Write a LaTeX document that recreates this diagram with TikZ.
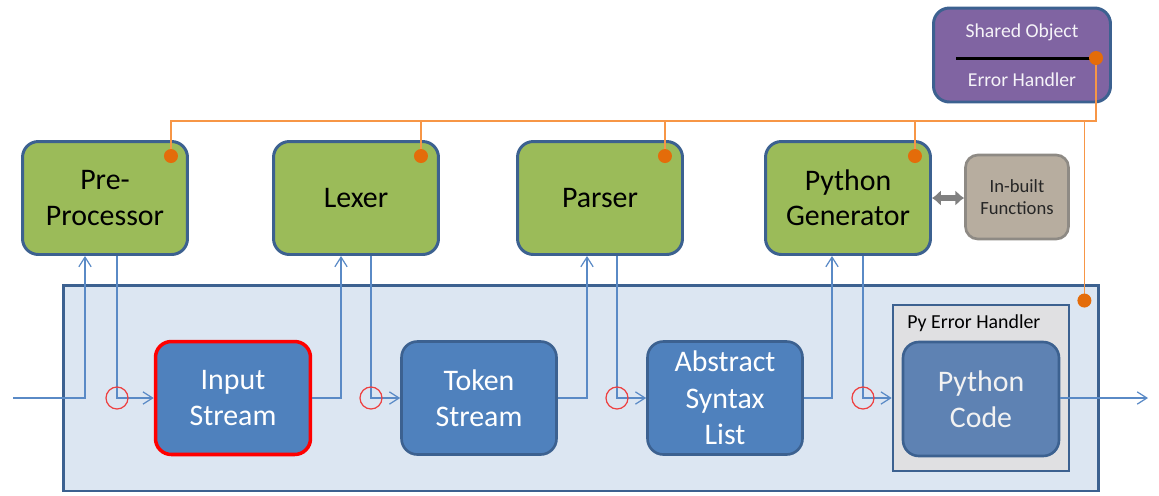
\documentclass[tikz,border=0pt]{standalone}
\usepackage{fontspec}
\setmainfont{Carlito}
\usepackage{tikz}
\usetikzlibrary{arrows.meta,positioning,calc}

\definecolor{stagegreen}{HTML}{9BBB59}
\definecolor{boxblue}{HTML}{4F81BD}
\definecolor{edgeblue}{HTML}{3C6190}
\definecolor{panelblue}{HTML}{DCE6F2}
\definecolor{flowblue}{HTML}{5A8AC6}
\definecolor{busorange}{HTML}{F79646}
\definecolor{dotorange}{HTML}{E46C0A}
\definecolor{sharedpurple}{HTML}{8064A2}
\definecolor{libtan}{HTML}{B7AD9F}
\definecolor{libedge}{HTML}{8E8A84}
\definecolor{codeblue}{HTML}{5E82B3}
\definecolor{handlergray}{HTML}{E0E0E2}
\definecolor{ringred}{HTML}{EE4040}

\begin{document}
\begin{tikzpicture}[x=0.02cm,y=-0.02cm,
		stage/.style={draw=edgeblue,line width=1.7pt,fill=stagegreen,rounded corners=9pt,minimum width=3.3cm,minimum height=2.26cm,align=center,font=\fontsize{17}{20}\selectfont},
		data/.style={draw=edgeblue,line width=1.5pt,fill=boxblue,text=white,rounded corners=9pt,minimum width=3.1cm,minimum height=2.26cm,align=center,font=\fontsize{17}{20.8}\selectfont},
		flow/.style={flowblue,line width=0.7pt},
		ringnode/.style={draw=ringred,line width=0.7pt,circle,inner sep=0pt,minimum size=0.44cm},
		bus/.style={busorange,line width=0.8pt},
		>={Straight Barb[length=5.5pt,width=7pt]}]
		\useasboundingbox (0,0) rectangle (1159,495);
		% compiler stages
		\node[stage] (pre) at (105,198) {Pre-\\Processor};
		\node[stage] (lex) at (356,198) {Lexer};
		\node[stage] (par) at (600,198) {Parser};
		\node[stage] (gen) at (848,198) {Python\\Generator};
		\node[draw=libedge,line width=1.5pt,fill=libtan,rounded corners=7pt,minimum width=2.06cm,minimum height=1.68cm,align=center,font=\fontsize{10.6}{12.4}\selectfont,text=black!85] (lib) at (1017,197) {In-built\\Functions};
		\draw[{Latex[length=5pt,width=9pt]}-{Latex[length=5pt,width=9pt]},line width=3pt,black!50] (gen.east) -- (gen.east -| lib.west);
		% shared error handler
		\node[draw=edgeblue,line width=1.7pt,fill=sharedpurple,rounded corners=9pt,minimum width=3.54cm,minimum height=1.88cm,align=center,text=white!92!sharedpurple,font=\fontsize{11.2}{27.8}\selectfont] (shared) at (1022,55) {Shared Object\\Error Handler};
		\draw[line width=1.7pt] ($(shared.center)+(-66,3)$) -- ($(shared.center)+(70,3)$);
		% data panel
		\node[draw=edgeblue,line width=1.7pt,fill=panelblue,minimum width=20.72cm,minimum height=4.12cm] (panel) at (581,388) {};
		\node[draw=edgeblue,line width=1.5pt,fill=handlergray,minimum width=3.52cm,minimum height=3.32cm] (handler) at (981,388) {};
		\node[anchor=base west,inner sep=0pt,font=\fontsize{11.3}{13}\selectfont] (handlertxt) at (907,328) {Py Error Handler};
		\node[data,draw=red,line width=2pt] (inp) at (233,398) {Input\\Stream};
		\node[data] (tok) at (479,398) {Token\\Stream};
		\node[data] (ast) at (725,398) {Abstract\\Syntax\\List};
		\node[data,fill=codeblue,text=white!95!black,minimum width=3.12cm,minimum height=2.28cm] (code) at (981,399) {Python\\Code};
		% flow
		\coordinate (src) at (13,398);
		\coordinate (sink) at (1148,398);
		\coordinate (preup) at ($(pre.south)+(-20,0)$);
		\coordinate (predn) at ($(pre.south)+(12,0)$);
		\coordinate (lexup) at ($(lex.south)+(-15,0)$);
		\coordinate (lexdn) at ($(lex.south)+(15,0)$);
		\coordinate (parup) at ($(par.south)+(-13,0)$);
		\coordinate (pardn) at ($(par.south)+(17,0)$);
		\coordinate (genup) at ($(gen.south)+(-16,0)$);
		\coordinate (gendn) at ($(gen.south)+(15,0)$);
		\draw[flow,->] (src) -| (preup);
		\draw[flow,->] (predn) |- node[ringnode] (ring1) {} (inp.west);
		\draw[flow,->] (inp.east) -| (lexup);
		\draw[flow,->] (lexdn) |- node[ringnode] (ring2) {} (tok.west);
		\draw[flow,->] (tok.east) -| (parup);
		\draw[flow,->] (pardn) |- node[ringnode] (ring3) {} (ast.west);
		\draw[flow,->] (ast.east) -| (genup);
		\draw[flow,->] (gendn) |- node[ringnode] (ring4) {} (handler.west |- inp.west);
		\draw[flow,->] (code.east |- sink) -- (sink);
		% error bus
		\coordinate (bus) at (0,121);
		\coordinate (dpre) at ($(pre.north east)+(-18,16)$);
		\coordinate (dlex) at ($(lex.north east)+(-19,16)$);
		\coordinate (dpar) at ($(par.north east)+(-19,16)$);
		\coordinate (dgen) at ($(gen.north east)+(-17,16)$);
		\coordinate (dpanel) at ($(panel.north east)+(-16,17)$);
		\coordinate (dshared) at ($(shared.center)+(74,3)$);
		\draw[bus] (dpre) -- (dpre |- bus) -- (dshared |- bus) -- (dshared);
		\draw[bus] (dlex) -- (dlex |- bus);
		\draw[bus] (dpar) -- (dpar |- bus);
		\draw[bus] (dgen) -- (dgen |- bus);
		\draw[bus] (dpanel) -- (dpanel |- bus);
		\fill[dotorange] (dpre) circle (0.14cm) (dlex) circle (0.14cm) (dpar) circle (0.14cm) (dgen) circle (0.14cm) (dpanel) circle (0.14cm) (dshared) circle (0.14cm);
\end{tikzpicture}
\end{document}
